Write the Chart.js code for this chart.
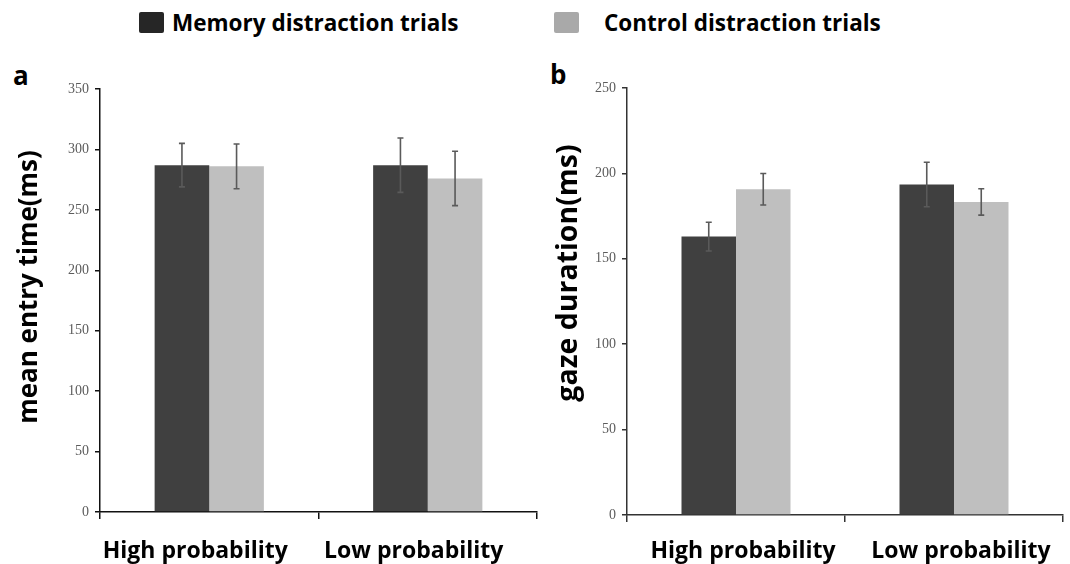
<!DOCTYPE html>
<html>
<head>
<meta charset="utf-8">
<script src="https://cdn.jsdelivr.net/npm/chart.js@4.4.0/dist/chart.umd.min.js"></script>
<style>
  body { margin: 0; background: #fff; }
  #wrap { position: relative; width: 1070px; height: 564px; overflow: hidden; font-family: "Open Sans", sans-serif; }
  canvas { position: absolute; top: 0; }
  .leg-box { position: absolute; width: 25px; height: 21px; border-radius: 2px; }
  .leg-text, .panel { position: absolute; font-weight: bold; line-height: 1; color: #000; white-space: nowrap; }
  .leg-text { font-size: 22.5px; top: 11.5px; }
  .panel { font-size: 26px; }
</style>
</head>
<body>
<div id="wrap">
  <div class="leg-box" style="left:139px;top:12px;background:#262626"></div>
  <div class="leg-text" style="left:172px">Memory distraction trials</div>
  <div class="leg-box" style="left:554px;top:12px;background:#a9a9a9"></div>
  <div class="leg-text" style="left:604px">Control distraction trials</div>
  <div class="panel" style="left:13px;top:62px">a</div>
  <div class="panel" style="left:550px;top:61px">b</div>
  <canvas id="chartA" width="540" height="564" style="left:0"></canvas>
  <canvas id="chartB" width="530" height="564" style="left:540px"></canvas>
</div>
<script>
/* ---------------------------- data --------------------------------------------- */

const categories = ['High probability', 'Low probability']
const seriesNames = ['Memory distraction trials', 'Control distraction trials']

// panel a : mean entry time (ms)
const entryMemory = [287, 287]
const entryMemoryErr = [18, 22.5]
const entryControl = [286, 276]
const entryControlErr = [18.5, 22.5]
const entryTicks = [0, 350, 50]   // min, max, step

// panel b : gaze duration (ms)
const gazeMemory = [163, 193.5]
const gazeMemoryErr = [8.4, 13]
const gazeControl = [190.7, 183.3]
const gazeControlErr = [9.2, 7.7]
const gazeTicks = [0, 250, 50]

const darkColor = '#404040'
const lightColor = '#bfbfbf'

/* ---------------------------- plugins --------------------------------------------- */

const errorBars = {
    id: 'errorBars',
    afterDatasetsDraw(chart){
        const ctx = chart.ctx
        const yScale = chart.scales.y
        chart.data.datasets.forEach((ds, i) => {
            const meta = chart.getDatasetMeta(i)
            meta.data.forEach((bar, j) => {
                const mean = ds.data[j]
                const err = ds.errors[j]
                const top = yScale.getPixelForValue(mean + err)
                const bottom = yScale.getPixelForValue(mean - err)
                ctx.save()
                ctx.strokeStyle = '#5a5a5a'
                ctx.lineWidth = 1.6
                ctx.beginPath()
                ctx.moveTo(bar.x, top)
                ctx.lineTo(bar.x, bottom)
                ctx.moveTo(bar.x - 3, top)
                ctx.lineTo(bar.x + 3, top)
                ctx.moveTo(bar.x - 3, bottom)
                ctx.lineTo(bar.x + 3, bottom)
                ctx.stroke()
                ctx.restore()
            })
        })
    }
}

const yTitle = {
    id: 'yTitle',
    afterDraw(chart, args, opts){
        const ctx = chart.ctx
        ctx.save()
        ctx.translate(opts.x, opts.y)
        ctx.rotate(-Math.PI / 2)
        ctx.font = `bold ${opts.size}px "Open Sans"`
        ctx.fillStyle = '#000'
        ctx.textAlign = 'center'
        ctx.textBaseline = 'alphabetic'
        ctx.fillText(opts.text, 0, 0)
        ctx.restore()
    }
}

/* ---------------------------- chart builder --------------------------------------------- */

const make_chart = (canvasId, memory, memoryErr, control, controlErr, ticks, title, area) => {
    const data = {
        labels: categories,
        datasets: [{
            label: seriesNames[0],
            data: memory,
            errors: memoryErr,
            backgroundColor: darkColor,
            categoryPercentage: 0.5,
            barPercentage: 1.0
        }, {
            label: seriesNames[1],
            data: control,
            errors: controlErr,
            backgroundColor: lightColor,
            categoryPercentage: 0.5,
            barPercentage: 1.0
        }]
    }
    const config = {
        type: 'bar',
        data: data,
        plugins: [errorBars, yTitle],
        options: {
            responsive: false,
            animation: false,
            events: [],
            layout: {
                padding: { top: area.top, right: area.right, left: 0, bottom: 0 }
            },
            plugins: {
                legend: { display: false },
                tooltip: { enabled: false },
                yTitle: { text: title, x: 37, y: area.titleY, size: area.titleSize }
            },
            scales: {
                x: {
                    grid: {
                        display: true,
                        drawOnChartArea: false,
                        tickLength: 7,
                        color: area.axisColor,
                        lineWidth: 1.5
                    },
                    border: { color: area.axisColor, width: 1.5 },
                    ticks: {
                        color: '#000',
                        padding: area.labelPad,
                        labelOffset: area.labelOffset,
                        font: { family: '"Open Sans"', size: 23, weight: 'bold' }
                    },
                    afterFit: (scale) => { scale.height = area.xHeight }
                },
                y: {
                    min: ticks[0],
                    max: ticks[1],
                    grid: {
                        display: true,
                        drawOnChartArea: false,
                        tickLength: 5,
                        color: area.axisColor,
                        lineWidth: 1.5
                    },
                    border: { color: area.axisColor, width: 1.5 },
                    ticks: {
                        stepSize: ticks[2],
                        color: '#5c5c5c',
                        padding: 6,
                        font: { family: '"Liberation Serif"', size: 14 }
                    },
                    afterFit: (scale) => { scale.width = area.yWidth }
                }
            }
        }
    }
    const ctx = document.getElementById(canvasId)
    return new Chart(ctx, config)
}

make_chart('chartA', entryMemory, entryMemoryErr, entryControl, entryControlErr, entryTicks,
    'mean entry time(ms)',
    { top: 89, right: 3, xHeight: 52, yWidth: 100, titleY: 287, titleSize: 26, labelOffset: -14, labelPad: 19, axisColor: '#111' })

make_chart('chartB', gazeMemory, gazeMemoryErr, gazeControl, gazeControlErr, gazeTicks,
    'gaze duration(ms)',
    { top: 88, right: 7, xHeight: 49, yWidth: 87, titleY: 273, titleSize: 28.5, labelOffset: 7, labelPad: 16, axisColor: '#333' })
</script>
</body>
</html>
